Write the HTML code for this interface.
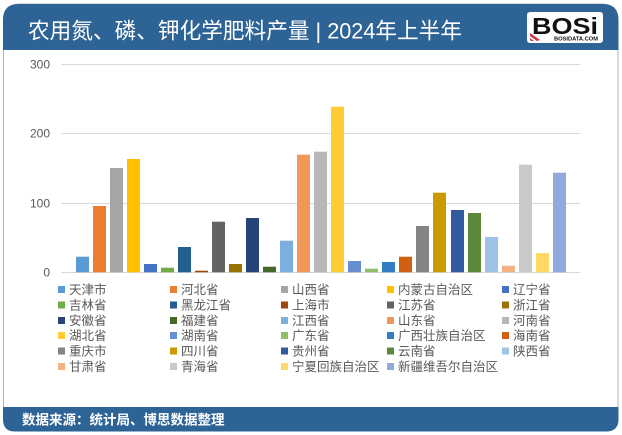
<!DOCTYPE html>
<html>
<head>
<meta charset="utf-8">
<style>
html,body{margin:0;padding:0;background:#fff;}
body{width:622px;height:435px;overflow:hidden;position:relative;font-family:"Liberation Sans","Noto Sans CJK SC",sans-serif;}
svg{position:absolute;left:0;top:0;}
</style>
</head>
<body>
<svg width="622" height="435" viewBox="0 0 622 435" xmlns="http://www.w3.org/2000/svg" font-family="Liberation Sans, Noto Sans CJK SC, sans-serif">
  <!-- outer frame -->
  <path d="M3.5,20 Q3.5,4 19.5,4 L602,4 Q618,4 618,20 L618,419 Q618,431 606,431 L15.5,431 Q3.5,431 3.5,419 Z" fill="#ffffff" stroke="#a7b5c6" stroke-width="1"/>
  <!-- header -->
  <path d="M3,20 Q3,4 19,4 L602,4 Q618.5,4 618.5,20 L618.5,50 L3,50 Z" fill="#2e6396"/>
  <text x="28" y="38.5" font-size="22" fill="#ffffff" textLength="434" lengthAdjust="spacingAndGlyphs" font-family="Liberation Sans, Noto Sans CJK SC, sans-serif">农用氮、磷、钾化学肥料产量 | 2024年上半年</text>
  <!-- logo -->
  <rect x="527" y="12" width="76" height="31" rx="3" fill="#ffffff"/>
  <text x="532" y="34" font-size="23" font-weight="bold" fill="#111" textLength="66" lengthAdjust="spacingAndGlyphs" font-family="Liberation Sans, sans-serif">BOSi</text>
  <path d="M530,33 L540,40 L537,41 L530,36 Z M530,38 L534,41 L531,41 L530,40 Z" fill="#d0313a"/>
  <text x="554" y="40.5" font-size="5.5" font-weight="bold" fill="#111" textLength="44" lengthAdjust="spacingAndGlyphs" font-family="Liberation Sans, sans-serif">BOSIDATA.COM</text>
  <!-- footer -->
  <path d="M3,407 L618.5,407 L618.5,419 Q618.5,431.5 606,431.5 L15,431.5 Q3,431.5 3,419 Z" fill="#2e6396"/>
  <text x="22" y="424.5" font-size="13.5" fill="#ffffff" font-weight="bold" font-family="Liberation Sans, Noto Sans CJK SC, sans-serif">数据来源：统计局、博思数据整理</text>

  <!-- gridlines -->
  <g stroke="#d9d9d9" stroke-width="1">
    <line x1="61" y1="64.5" x2="580" y2="64.5"/>
    <line x1="61" y1="133.5" x2="580" y2="133.5"/>
    <line x1="61" y1="203.5" x2="580" y2="203.5"/>
    <line x1="61" y1="272.5" x2="580" y2="272.5"/>
  </g>
  <g font-size="12" fill="#595959" text-anchor="end" font-family="Liberation Sans, sans-serif">
    <text x="50" y="68.5">300</text>
    <text x="50" y="137.5">200</text>
    <text x="50" y="207.5">100</text>
    <text x="50" y="276.5">0</text>
  </g>

  <!-- bars -->
  <g>
    <rect x="76" y="256.7" width="13" height="15.6" fill="#5b9bd5"/>
    <rect x="93" y="206" width="13" height="66.3" fill="#ed7d31"/>
    <rect x="110" y="168" width="13" height="104.3" fill="#a5a5a5"/>
    <rect x="127" y="159" width="13" height="113.3" fill="#ffc000"/>
    <rect x="144" y="264" width="13" height="8.3" fill="#4472c4"/>
    <rect x="161" y="267.7" width="13" height="4.6" fill="#70ad47"/>
    <rect x="178" y="247" width="13" height="25.3" fill="#255e91"/>
    <rect x="195" y="270.7" width="13" height="1.6" fill="#9e480e"/>
    <rect x="212" y="221.7" width="13" height="50.6" fill="#636363"/>
    <rect x="229" y="264" width="13" height="8.3" fill="#997300"/>
    <rect x="246" y="218" width="13" height="54.3" fill="#264478"/>
    <rect x="263" y="266.7" width="13" height="5.6" fill="#43682b"/>
    <rect x="280" y="240.7" width="13" height="31.6" fill="#7cafdd"/>
    <rect x="297" y="154.7" width="13" height="117.6" fill="#f1975a"/>
    <rect x="314" y="151.7" width="13" height="120.6" fill="#b7b7b7"/>
    <rect x="331" y="106.7" width="13" height="165.6" fill="#ffcd33"/>
    <rect x="348" y="261" width="13" height="11.3" fill="#698ed0"/>
    <rect x="365" y="268.7" width="13" height="3.6" fill="#8cc168"/>
    <rect x="382" y="262" width="13" height="10.3" fill="#327dc2"/>
    <rect x="399" y="256.7" width="13" height="15.6" fill="#d26012"/>
    <rect x="416" y="226" width="13" height="46.3" fill="#848484"/>
    <rect x="433" y="192.7" width="13" height="79.6" fill="#cc9a00"/>
    <rect x="451" y="210" width="13" height="62.3" fill="#335aa1"/>
    <rect x="468" y="213" width="13" height="59.3" fill="#5a8a39"/>
    <rect x="485" y="237" width="13" height="35.3" fill="#9dc3e6"/>
    <rect x="502" y="265.7" width="13" height="6.6" fill="#f4b183"/>
    <rect x="519" y="164.7" width="13" height="107.6" fill="#c9c9c9"/>
    <rect x="536" y="253" width="13" height="19.3" fill="#ffd966"/>
    <rect x="553" y="172.7" width="13" height="99.6" fill="#8faadc"/>
  </g>

  <!-- legend -->
  <g font-size="12.5" fill="#595959" font-family="Liberation Sans, Noto Sans CJK SC, sans-serif">
    <!-- row 1 -->
    <rect x="58" y="286" width="7" height="7" fill="#5b9bd5"/><text x="69" y="294">天津市</text>
    <rect x="170" y="286" width="7" height="7" fill="#ed7d31"/><text x="181" y="294">河北省</text>
    <rect x="281" y="286" width="7" height="7" fill="#a5a5a5"/><text x="292" y="294">山西省</text>
    <rect x="387" y="286" width="7" height="7" fill="#ffc000"/><text x="398" y="294">内蒙古自治区</text>
    <rect x="502" y="286" width="7" height="7" fill="#4472c4"/><text x="513" y="294">辽宁省</text>
    <!-- row 2 -->
    <rect x="58" y="301.5" width="7" height="7" fill="#70ad47"/><text x="69" y="309.5">吉林省</text>
    <rect x="170" y="301.5" width="7" height="7" fill="#255e91"/><text x="181" y="309.5">黑龙江省</text>
    <rect x="281" y="301.5" width="7" height="7" fill="#9e480e"/><text x="292" y="309.5">上海市</text>
    <rect x="387" y="301.5" width="7" height="7" fill="#636363"/><text x="398" y="309.5">江苏省</text>
    <rect x="502" y="301.5" width="7" height="7" fill="#997300"/><text x="513" y="309.5">浙江省</text>
    <!-- row 3 -->
    <rect x="58" y="317" width="7" height="7" fill="#264478"/><text x="69" y="325">安徽省</text>
    <rect x="170" y="317" width="7" height="7" fill="#43682b"/><text x="181" y="325">福建省</text>
    <rect x="281" y="317" width="7" height="7" fill="#7cafdd"/><text x="292" y="325">江西省</text>
    <rect x="387" y="317" width="7" height="7" fill="#f1975a"/><text x="398" y="325">山东省</text>
    <rect x="502" y="317" width="7" height="7" fill="#b7b7b7"/><text x="513" y="325">河南省</text>
    <!-- row 4 -->
    <rect x="58" y="332" width="7" height="7" fill="#ffcd33"/><text x="69" y="340">湖北省</text>
    <rect x="170" y="332" width="7" height="7" fill="#698ed0"/><text x="181" y="340">湖南省</text>
    <rect x="281" y="332" width="7" height="7" fill="#8cc168"/><text x="292" y="340">广东省</text>
    <rect x="387" y="332" width="7" height="7" fill="#327dc2"/><text x="398" y="340">广西壮族自治区</text>
    <rect x="502" y="332" width="7" height="7" fill="#d26012"/><text x="513" y="340">海南省</text>
    <!-- row 5 -->
    <rect x="58" y="347.5" width="7" height="7" fill="#848484"/><text x="69" y="355.5">重庆市</text>
    <rect x="170" y="347.5" width="7" height="7" fill="#cc9a00"/><text x="181" y="355.5">四川省</text>
    <rect x="281" y="347.5" width="7" height="7" fill="#335aa1"/><text x="292" y="355.5">贵州省</text>
    <rect x="387" y="347.5" width="7" height="7" fill="#5a8a39"/><text x="398" y="355.5">云南省</text>
    <rect x="502" y="347.5" width="7" height="7" fill="#9dc3e6"/><text x="513" y="355.5">陕西省</text>
    <!-- row 6 -->
    <rect x="58" y="363" width="7" height="7" fill="#f4b183"/><text x="69" y="371">甘肃省</text>
    <rect x="170" y="363" width="7" height="7" fill="#c9c9c9"/><text x="181" y="371">青海省</text>
    <rect x="281" y="363" width="7" height="7" fill="#ffd966"/><text x="292" y="371">宁夏回族自治区</text>
    <rect x="387" y="363" width="7" height="7" fill="#8faadc"/><text x="398" y="371">新疆维吾尔自治区</text>
  </g>
</svg>
</body>
</html>
